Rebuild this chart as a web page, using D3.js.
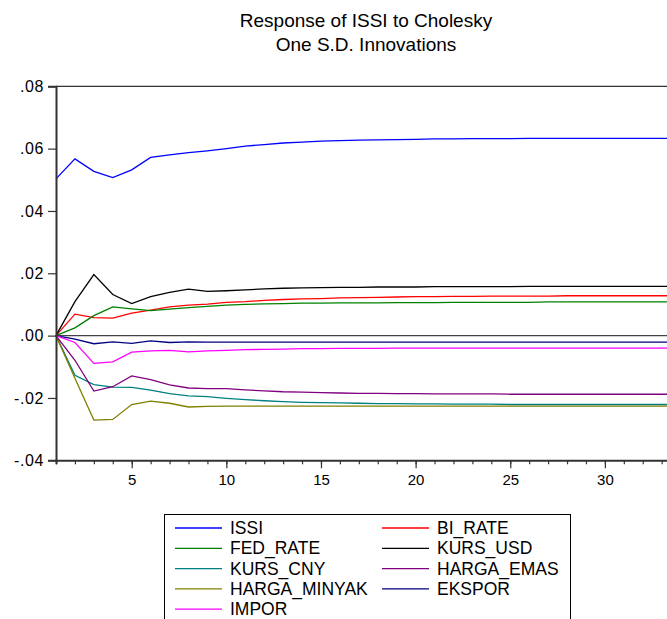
<!DOCTYPE html>
<html>
<head>
<meta charset="utf-8">
<script src="https://cdnjs.cloudflare.com/ajax/libs/d3/7.8.5/d3.min.js"></script>
<style>
  body { margin: 0; background: #fff; }
  svg { display: block; font-family: "Liberation Sans", Arial, sans-serif; }
</style>
</head>
<body>
<svg id="chart" width="667" height="619"></svg>
<script>
// impulse responses, periods 1..34
var periods = d3.range(1, 35);

var issi = [0.0503, 0.0567, 0.0527, 0.0507, 0.0532, 0.0572, 0.0580, 0.0587, 0.0593, 0.0600,
  0.0608, 0.0613, 0.0618, 0.0621, 0.0624, 0.0626, 0.0627, 0.0628, 0.0629, 0.0630,
  0.0631, 0.0631, 0.0632, 0.0632, 0.0632, 0.0633, 0.0633, 0.0633, 0.0633, 0.0633,
  0.0633, 0.0633, 0.0633, 0.0633];
var biRate = [0, 0.0069, 0.0058, 0.0056, 0.0072, 0.0082, 0.0092, 0.0098, 0.0101, 0.0107,
  0.0109, 0.0113, 0.0116, 0.0118, 0.0119, 0.0121, 0.0122, 0.0123, 0.0124, 0.0125,
  0.0125, 0.0126, 0.0126, 0.0127, 0.0127, 0.0127, 0.0127, 0.0128, 0.0128, 0.0128,
  0.0128, 0.0128, 0.0128, 0.0128];
var fedRate = [0, 0.0025, 0.0064, 0.0092, 0.0086, 0.0080, 0.0085, 0.0090, 0.0094, 0.0098,
  0.0100, 0.0102, 0.0103, 0.0104, 0.0104, 0.0105, 0.0105, 0.0105, 0.0106, 0.0106,
  0.0106, 0.0107, 0.0107, 0.0107, 0.0107, 0.0107, 0.0108, 0.0108, 0.0108, 0.0108,
  0.0108, 0.0108, 0.0108, 0.0108];
var kursUsd = [0, 0.0109, 0.0196, 0.0132, 0.0103, 0.0125, 0.0139, 0.0149, 0.0142, 0.0144,
  0.0147, 0.0150, 0.0152, 0.0153, 0.0154, 0.0155, 0.0155, 0.0156, 0.0156, 0.0156,
  0.0157, 0.0157, 0.0157, 0.0157, 0.0157, 0.0158, 0.0158, 0.0158, 0.0158, 0.0158,
  0.0158, 0.0158, 0.0158, 0.0158];
var kursCny = [0, -0.0127, -0.0157, -0.0165, -0.0166, -0.0175, -0.0186, -0.0193, -0.0196, -0.0201,
  -0.0205, -0.0209, -0.0212, -0.0214, -0.0215, -0.0216, -0.0217, -0.0218, -0.0218, -0.0219,
  -0.0219, -0.0220, -0.0220, -0.0220, -0.0221, -0.0221, -0.0221, -0.0221, -0.0221, -0.0221,
  -0.0221, -0.0221, -0.0221, -0.0221];
var hargaEmas = [0, -0.0079, -0.0178, -0.0164, -0.0129, -0.0141, -0.0158, -0.0168, -0.0170, -0.0170,
  -0.0174, -0.0177, -0.0180, -0.0181, -0.0183, -0.0184, -0.0185, -0.0185, -0.0186, -0.0186,
  -0.0187, -0.0187, -0.0187, -0.0187, -0.0188, -0.0188, -0.0188, -0.0188, -0.0188, -0.0188,
  -0.0188, -0.0188, -0.0188, -0.0188];
var hargaMinyak = [0, -0.0137, -0.0271, -0.0269, -0.0221, -0.0210, -0.0217, -0.0229, -0.0227, -0.0226,
  -0.0226, -0.0226, -0.0226, -0.0226, -0.0226, -0.0226, -0.0226, -0.0226, -0.0226, -0.0226,
  -0.0226, -0.0226, -0.0226, -0.0226, -0.0226, -0.0226, -0.0226, -0.0226, -0.0226, -0.0226,
  -0.0226, -0.0226, -0.0226, -0.0226];
var ekspor = [0, -0.0011, -0.0026, -0.0020, -0.0025, -0.0017, -0.0022, -0.0020, -0.0021, -0.0021,
  -0.0021, -0.0021, -0.0021, -0.0021, -0.0021, -0.0021, -0.0021, -0.0021, -0.0021, -0.0021,
  -0.0021, -0.0021, -0.0021, -0.0021, -0.0021, -0.0021, -0.0021, -0.0021, -0.0021, -0.0021,
  -0.0021, -0.0021, -0.0021, -0.0021];
var impor = [0, -0.0022, -0.0089, -0.0084, -0.0053, -0.0049, -0.0047, -0.0052, -0.0049, -0.0047,
  -0.0045, -0.0044, -0.0043, -0.0042, -0.0042, -0.0041, -0.0041, -0.0041, -0.0040, -0.0040,
  -0.0040, -0.0040, -0.0040, -0.0040, -0.0040, -0.0040, -0.0040, -0.0040, -0.0040, -0.0040,
  -0.0040, -0.0040, -0.0040, -0.0040];

var seriesNames = ["ISSI", "BI_RATE", "FED_RATE", "KURS_USD", "KURS_CNY", "HARGA_EMAS", "HARGA_MINYAK", "EKSPOR", "IMPOR"];
var seriesValues = [issi, biRate, fedRate, kursUsd, kursCny, hargaEmas, hargaMinyak, ekspor, impor];
var seriesColors = ["#0000ff", "#ff0000", "#008000", "#000000", "#008080", "#800080", "#808000", "#000080", "#ff00ff"];

var yTicks = [0.08, 0.06, 0.04, 0.02, 0, -0.02, -0.04];
var yTickLabels = [".08", ".06", ".04", ".02", ".00", "-.02", "-.04"];
var xTickLabels = [5, 10, 15, 20, 25, 30];

var titleLines = ["Response of ISSI to Cholesky", "One S.D. Innovations"];

var svg = d3.select("#chart");

// plot box (right edge runs off the picture, as in the reference)
var plotLeft = 56, plotTop = 86.3, plotBottom = 460.3, plotRight = 680.6;

var x = d3.scaleLinear().domain([1, 34]).range([plotLeft, plotRight]);
var y = d3.scaleLinear().domain([-0.04, 0.08]).range([plotBottom, plotTop]);

// title
svg.append("g").selectAll("text")
  .data(titleLines)
  .enter().append("text")
    .attr("x", 366)
    .attr("y", function(d, i) { return 27 + i * 23.5; })
    .attr("text-anchor", "middle")
    .attr("font-size", "19px")
    .attr("fill", "#000")
    .text(function(d) { return d; });

// zero line
svg.append("line")
  .attr("x1", plotLeft).attr("x2", 667)
  .attr("y1", y(0)).attr("y2", y(0))
  .attr("stroke", "#444").attr("stroke-width", 1.2);

// lines
var line = d3.line()
  .x(function(d, i) { return x(periods[i]); })
  .y(function(d) { return y(d); });

svg.append("g").selectAll("path")
  .data(seriesValues)
  .enter().append("path")
    .attr("d", line)
    .attr("fill", "none")
    .attr("stroke", function(d, i) { return seriesColors[i]; })
    .attr("stroke-width", 1.3);

// frame top
svg.append("line")
  .attr("x1", plotLeft).attr("x2", 667)
  .attr("y1", plotTop).attr("y2", plotTop)
  .attr("stroke", "#000").attr("stroke-width", 1);

// y axis
var yAxis = d3.axisLeft(y)
  .tickValues(yTicks)
  .tickFormat(function(d, i) { return yTickLabels[i]; })
  .tickSize(8)
  .tickPadding(4);

var yG = svg.append("g")
  .attr("transform", "translate(" + plotLeft + ",0)")
  .call(yAxis);
yG.select(".domain").attr("stroke", "#333").attr("stroke-width", 2);
yG.selectAll(".tick line").attr("stroke", "#333").attr("stroke-width", 1.2);
yG.selectAll(".tick text")
  .attr("font-size", "16px")
  .attr("letter-spacing", "0.6px")
  .attr("font-family", "Liberation Sans, Arial, sans-serif")
  .attr("fill", "#000");

// x axis: minor ticks every period, labels every 5
var xMinor = d3.axisBottom(x)
  .tickValues(periods)
  .tickFormat("")
  .tickSize(4);
var xMinorG = svg.append("g")
  .attr("transform", "translate(0," + plotBottom + ")")
  .call(xMinor);
xMinorG.select(".domain").attr("stroke", "#333").attr("stroke-width", 2);
xMinorG.selectAll(".tick line").attr("stroke", "#333").attr("stroke-width", 1.2);

var xMajor = d3.axisBottom(x)
  .tickValues(xTickLabels)
  .tickFormat(d3.format("d"))
  .tickSize(8)
  .tickPadding(6);
var xMajorG = svg.append("g")
  .attr("transform", "translate(0," + plotBottom + ")")
  .call(xMajor);
xMajorG.select(".domain").remove();
xMajorG.selectAll(".tick line").attr("stroke", "#333").attr("stroke-width", 1.2);
xMajorG.selectAll(".tick text")
  .attr("font-size", "15px")
  .attr("font-family", "Liberation Sans, Arial, sans-serif")
  .attr("fill", "#000");

// legend
var legend = svg.append("g");
legend.append("rect")
  .attr("x", 164.5).attr("y", 514.5)
  .attr("width", 406).attr("height", 120)
  .attr("fill", "#fff")
  .attr("stroke", "#000").attr("stroke-width", 1);

var item = legend.selectAll(".item")
  .data(seriesNames)
  .enter().append("g")
    .attr("class", "item")
    .attr("transform", function(d, i) {
      return "translate(" + (i % 2 ? 382 : 175) + "," + (528 + Math.floor(i / 2) * 20.3) + ")";
    });

item.append("line")
  .attr("x1", 0).attr("x2", 47)
  .attr("stroke", function(d, i) { return seriesColors[i]; })
  .attr("stroke-width", 1.3);

item.append("text")
  .attr("x", 55)
  .attr("y", 6)
  .attr("font-size", "17.5px")
  .attr("fill", "#000")
  .text(function(d) { return d; });
</script>
</body>
</html>
